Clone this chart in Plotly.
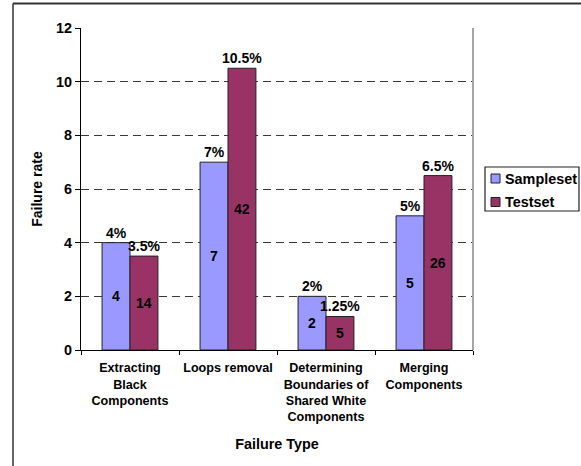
import plotly.graph_objects as go

categories = ["Extracting<br>Black<br>Components", "Loops removal",
              "Determining<br>Boundaries of<br>Shared White<br>Components",
              "Merging<br>Components"]
series_names = ["Sampleset", "Testset"]
sample_rate = [4, 7, 2, 5]
test_rate = [3.5, 10.5, 1.25, 6.5]
sample_count = [4, 7, 2, 5]
test_count = [14, 42, 5, 26]
sample_pct = ["4%", "7%", "2%", "5%"]
test_pct = ["3.5%", "10.5%", "1.25%", "6.5%"]
y_ticks = [0, 2, 4, 6, 8, 10, 12]

W, H = 581, 466
L, R, T, B = 81, 108, 28, 116
PW, PH = W - L - R, H - T - B

def px_x(p):
    return (p - L) / PW

def px_y(p):
    return (H - B - p) / PH

FAM = "Liberation Sans, Arial, sans-serif"

def f(size):
    return dict(family=FAM, size=size, color="black", weight="bold")

BLUE = "#9999FF"
RED = "#993366"
colors = [BLUE, RED]

fig = go.Figure()
fig.add_trace(go.Bar(name=series_names[0], x=categories, y=sample_rate,
                     text=sample_count, textposition="inside",
                     insidetextanchor="middle", textangle=0,
                     textfont=f(14), showlegend=False,
                     marker=dict(color=BLUE, line=dict(color="#222222", width=1))))
fig.add_trace(go.Bar(name=series_names[1], x=categories, y=test_rate,
                     text=test_count, textposition="inside",
                     insidetextanchor="middle", textangle=0,
                     textfont=f(14), showlegend=False,
                     marker=dict(color=RED, line=dict(color="#222222", width=1))))

annotations = []
for c, v, t in zip(categories, sample_rate, sample_pct):
    annotations.append(dict(x=c, y=v, text=t, xshift=-14, yshift=0, showarrow=False,
                            yanchor="bottom", font=f(14)))
for c, v, t in zip(categories, test_rate, test_pct):
    annotations.append(dict(x=c, y=v, text=t, xshift=14, yshift=0, showarrow=False,
                            yanchor="bottom", font=f(14)))

shapes = [
    dict(type="line", xref="paper", yref="paper", x0=px_x(13), x1=px_x(W + 2),
         y0=px_y(3.5), y1=px_y(3.5), line=dict(color="#333333", width=2)),
    dict(type="line", xref="paper", yref="paper", x0=px_x(13), x1=px_x(13),
         y0=px_y(3.5), y1=px_y(H + 2), line=dict(color="#333333", width=1.5)),
    dict(type="line", xref="paper", yref="paper", x0=1, x1=1, y0=0, y1=1,
         line=dict(color="#A6A6A6", width=2)),
    dict(type="rect", xref="paper", yref="paper", x0=px_x(485), x1=px_x(579),
         y0=px_y(211), y1=px_y(167), line=dict(color="#222222", width=1.2),
         fillcolor="white", layer="below"),
]
leg_rows = [178.5, 202]
for name, col, yc in zip(series_names, colors, leg_rows):
    shapes.append(dict(type="rect", xref="paper", yref="paper",
                       x0=px_x(491), x1=px_x(500), y0=px_y(yc + 4.5), y1=px_y(yc - 4.5),
                       line=dict(color="#222222", width=1), fillcolor=col))
    annotations.append(dict(xref="paper", yref="paper", x=px_x(503), y=px_y(yc),
                            xanchor="left", yanchor="middle", text=name,
                            showarrow=False, font=f(14.4)))

fig.update_layout(
    width=W, height=H,
    margin=dict(l=L, r=R, t=T, b=B, pad=0, autoexpand=False),
    paper_bgcolor="white", plot_bgcolor="white",
    barmode="group", bargap=0.43, bargroupgap=0,
    font=f(12),
    showlegend=False,
    annotations=annotations,
    shapes=shapes,
    xaxis=dict(showline=True, linecolor="black", linewidth=1, automargin=False,
               ticks="outside", ticklen=4, tickcolor="black", tickson="boundaries",
               tickangle=0, tickfont=f(12.6), ticklabelstandoff=6,
               title=dict(text="Failure Type", font=f(14.4), standoff=15),
               showgrid=False),
    yaxis=dict(range=[0, 12], tickvals=y_ticks, showline=True, linecolor="black", linewidth=1,
               automargin=False,
               ticks="outside", ticklen=5, tickcolor="black", tickfont=f(14.4),
               showgrid=True, gridcolor="#3a3a3a", gridwidth=1, griddash="8px,5px",
               zeroline=False,
               title=dict(text="Failure rate", font=f(14), standoff=10)),
)

fig.write_html("out.html")
